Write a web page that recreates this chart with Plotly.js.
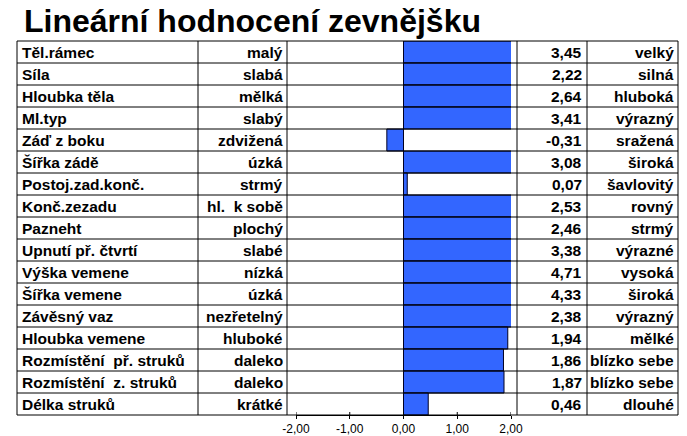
<!DOCTYPE html>
<html>
<head>
<meta charset="utf-8">
<script src="https://cdn.plot.ly/plotly-3.0.1.min.js"></script>
<style>html,body{margin:0;padding:0;background:#fff;}#chart{width:687px;height:436px;}</style>
</head>
<body>
<div id="chart"></div>
<script>
const traits = ["Těl.rámec","Síla","Hloubka těla","Ml.typ","Záď z boku","Šířka zádě","Postoj.zad.konč.","Konč.zezadu","Pazneht","Upnutí př. čtvrtí","Výška vemene","Šířka vemene","Závěsný vaz","Hloubka vemene","Rozmístění  př. struků","Rozmístění  z. struků","Délka struků"];
const leftLabels = ["malý","slabá","mělká","slabý","zdvižená","úzká","strmý","hl.  k sobě","plochý","slabé","nízká","úzká","nezřetelný","hluboké","daleko","daleko","krátké"];
const values = [3.45,2.22,2.64,3.41,-0.31,3.08,0.07,2.53,2.46,3.38,4.71,4.33,2.38,1.94,1.86,1.87,0.46];
const rightLabels = ["velký","silná","hluboká","výrazný","sražená","široká","šavlovitý","rovný","strmý","výrazné","vysoká","široká","výrazný","mělké","blízko sebe","blízko sebe","dlouhé"];
const tickVals = [-2,-1,0,1,2];
const tickText = ["-2,00","-1,00","0,00","1,00","2,00"];
const titleText = "Lineární hodnocení zevnějšku";

const W = 687, H = 436;
const plotL = 296, plotR = 511, plotT = 41, plotB = 415;
const pw = plotR - plotL, ph = plotB - plotT;
const px = v => (v - plotL) / pw;
const FONT = "Liberation Sans, Arial, sans-serif";

const fmt = v => v.toFixed(2).replace('.', ',');

const annotations = [];
traits.forEach((t, i) => {
  annotations.push({xref:'paper', yref:'y', x:px(20), y:t, text:'<b>'+t+'</b>', showarrow:false, xanchor:'left', yanchor:'middle', font:{family:FONT,size:15.5,color:'#000'}});
  annotations.push({xref:'paper', yref:'y', x:px(285), y:t, text:'<b>'+leftLabels[i]+'</b>', showarrow:false, xanchor:'right', yanchor:'middle', font:{family:FONT,size:15.5,color:'#000'}});
  annotations.push({xref:'paper', yref:'y', x:px(584), y:t, text:'<b>'+fmt(values[i])+'</b>', showarrow:false, xanchor:'right', yanchor:'middle', font:{family:FONT,size:15.5,color:'#000'}});
  annotations.push({xref:'paper', yref:'y', x:px(676), y:t, text:'<b>'+rightLabels[i]+'</b>', showarrow:false, xanchor:'right', yanchor:'middle', font:{family:FONT,size:15.5,color:'#000'}});
});

const shapes = [];
const n = traits.length;
for (let k = 0; k <= n; k++) {
  const yp = 1 - k / n;
  shapes.push({type:'line', xref:'paper', yref:'paper', x0:px(17), x1:px(678), y0:yp, y1:yp, line:{color:'#000', width:1}, layer:'above'});
}
[17,198,287,517,587,678].forEach(xv => {
  shapes.push({type:'line', xref:'paper', yref:'paper', x0:px(xv), x1:px(xv), y0:0, y1:1, line:{color:'#000', width:1}, layer:'above'});
});
tickVals.forEach(tv => {
  shapes.push({type:'line', xref:'x', yref:'paper', x0:tv, x1:tv, y0:0, y1:3/ph, line:{color:'#000', width:1}, layer:'above'});
});

const data = [{
  type:'bar', orientation:'h', x:values, y:traits,
  marker:{color:'#3366FF', line:{color:'#000022', width:1}},
  hoverinfo:'none'
}];

const layout = {
  width:W, height:H,
  margin:{l:plotL, r:W-plotR, t:plotT, b:H-plotB, pad:0},
  paper_bgcolor:'#fff', plot_bgcolor:'#fff',
  showlegend:false, bargap:0,
  title:{text:'<b>'+titleText+'</b>', xref:'container', yref:'container', x:24/W, xanchor:'left', y:1-21/H, yanchor:'middle', font:{family:FONT, size:32, color:'#000'}},
  xaxis:{range:[-2,2], tickvals:tickVals, ticktext:tickText, ticks:'outside', ticklen:3, tickcolor:'#000', showgrid:false, zeroline:false, showline:true, linecolor:'#000', linewidth:1, tickfont:{family:FONT, size:12, color:'#000'}, fixedrange:true},
  yaxis:{type:'category', autorange:'reversed', showticklabels:false, ticks:'', showgrid:false, zeroline:false, showline:false, fixedrange:true},
  annotations:annotations,
  shapes:shapes
};

Plotly.newPlot('chart', data, layout, {staticPlot:true, displayModeBar:false});
</script>
</body>
</html>
